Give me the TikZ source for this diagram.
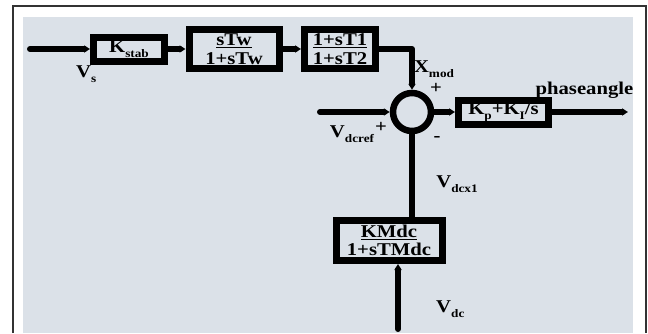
\documentclass[tikz,border=0pt]{standalone}
\usepackage{fontspec}
\setmainfont{Liberation Serif}[FakeStretch=1.15]
\usetikzlibrary{positioning, arrows.meta}
\definecolor{panel}{RGB}{219,225,232}
\newcommand{\lsub}[1]{\raisebox{-0.6ex}{\fontsize{11.5}{11.5}\selectfont #1}}

\begin{document}
\begin{tikzpicture}[
	x=1pt, y=-1pt, on grid,
	font=\bfseries\fontsize{18}{18.5}\selectfont,
	>={Triangle[length=6pt, width=7pt]},
	block/.style={draw, line width=7pt, inner sep=0pt, align=center},
	wire/.style={line width=6pt, line cap=round, line join=round},
	lbl/.style={inner sep=0pt}
	]
	\useasboundingbox (0,0) rectangle (648,333);
	\fill[white] (0,0) rectangle (648,333);
	\fill[panel] (23,17) rectangle (633,333);
	\draw[line width=1.3pt, black!80] (13,333) -- (13,6) -- (646,6) -- (646,333);

	\node[block, minimum width=71pt, minimum height=24pt] (kstab) at (129,49) {K\lsub{stab}};
	\node[block, minimum width=90pt, minimum height=39pt] (stw) [right=105pt of kstab] {\underline{sTw}\\1+sTw};
	\node[block, minimum width=71pt, minimum height=39pt] (tlead) [right=106pt of stw] {\underline{1+sT1}\\1+sT2};
	\node[draw, circle, line width=6.5pt, minimum size=38pt, inner sep=0pt] (sum) [below right=63pt and 72pt of tlead] {};
	\node[block, minimum width=90pt, minimum height=24pt] (pi) [right=91.5pt of sum] {K\lsub{p}+K\lsub{I}/s};
	\node[block, minimum width=106pt, minimum height=40pt] (kmdc) [below left=128.5pt and 23pt of sum] {\underline{KMdc}\\1+sTMdc};

	\coordinate[left=99pt of kstab] (vsin);
	\coordinate[left=92pt of sum] (vref);
	\coordinate[right=124.5pt of pi] (out);
	\coordinate (vdc) at (398,329);

	\node[lbl] (vslbl) [below right=17pt and 46pt of vsin] {V\lsub{s}};
	\node[lbl] (xmod) [above right=43pt and 22pt of sum] {X\lsub{mod}};
	\node[lbl] (xplus) [above right=24pt and 24pt of sum] {+};
	\node[lbl] (phase) [above right=22pt and 81pt of pi] {phaseangle};
	\node[lbl] (vdcref) [below left=22pt and 60pt of sum] {V\lsub{dcref}};
	\node[lbl] (rplus) [below left=15pt and 31pt of sum] {+};
	\node[lbl] (minus) [below right=27pt and 25pt of sum] {-};
	\node[lbl] (vdcx) [below right=72pt and 45pt of sum] {V\lsub{dcx1}};
	\node[lbl] (vdclbl) [above right=11pt and 38pt of vdc] {V\lsub{dc}};

	\draw[wire, ->] (vsin) -- (kstab);
	\draw[wire, ->] (kstab) -- (stw);
	\draw[wire, ->] (stw) -- (tlead);
	\draw[wire, ->] (tlead.east) -| (sum.north);
	\draw[wire, ->] (vref) -- (sum.west);
	\draw[wire, ->] (sum.east) -- (pi.west);
	\draw[wire, ->] (pi.east) -- (out);
	\draw[wire] (sum.south) -- (sum.south |- kmdc.north);
	\draw[wire, ->] (vdc) -- (vdc |- kmdc.south);
\end{tikzpicture}
\end{document}
